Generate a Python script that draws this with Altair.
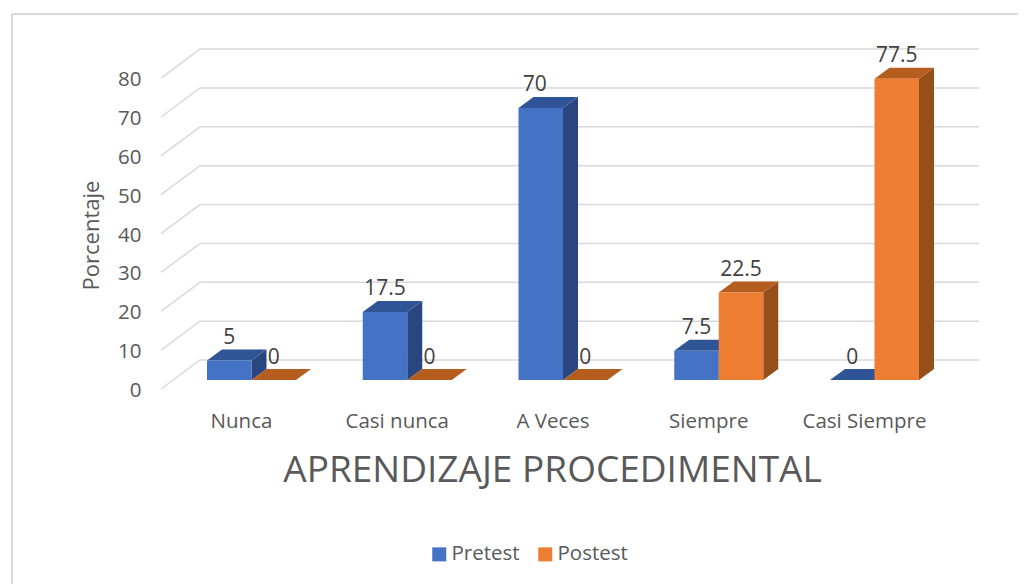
import altair as alt
import pandas as pd

categories = ["Nunca", "Casi nunca", "A Veces", "Siempre", "Casi Siempre"]
pretest = [5, 17.5, 70, 7.5, 0]
postest = [0, 0, 0, 22.5, 77.5]
series = ["Pretest", "Postest"]
front_colors = ["#4472C4", "#ED7D31"]
top_colors = {"Pretest": "#2F5597", "Postest": "#B55D1F"}
side_colors = {"Pretest": "#2A4680", "Postest": "#954F1A"}
y_ticks = [0, 10, 20, 30, 40, 50, 60, 70, 80]

W, H = 1006, 570
PX_X, PX_Y = 155.75, 3.886
x_dom = [(12 - 251.5) / PX_X, (1018 - 251.5) / PX_X]
y_dom = [(389 - 584) / PX_Y, (389 - 14) / PX_Y]
BAR = 44.5 / PX_X
DX, DY = 15 / PX_X, 11 / PX_Y
BASE = 9 / PX_Y
WALL = 29 / PX_Y
GRID_L, GRID_B, GRID_R = (161 - 251.5) / PX_X, (200 - 251.5) / PX_X, (979 - 251.5) / PX_X

fronts, sides, tops = [], [], []
for s, vals in zip(series, [pretest, postest]):
    for i, (c, v) in enumerate(zip(categories, vals)):
        x0 = i - BAR if s == "Pretest" else i
        x1 = x0 + BAR
        t = BASE + v
        key = f"{s}{i}"
        fronts.append(dict(serie=s, x0=x0, x1=x1, y0=BASE, y1=t, value=v, xc=(x0 + x1) / 2,
                           lab=f"{v:g}", cat=c))
        sides += [dict(k=key, fill=side_colors[s], x=x1, y=t, y2=BASE),
                  dict(k=key, fill=side_colors[s], x=x1 + DX, y=t + DY, y2=BASE + DY)]
        tops += [dict(k=key, fill=top_colors[s], x=x0, y=t, y2=t),
                 dict(k=key, fill=top_colors[s], x=x0 + DX, y=t + DY, y2=t),
                 dict(k=key, fill=top_colors[s], x=x1, y=t + DY, y2=t),
                 dict(k=key, fill=top_colors[s], x=x1 + DX, y=t + DY, y2=t + DY)]

grid = []
for v in y_ticks:
    grid += [dict(t=v, o=0, x=GRID_L, y=v), dict(t=v, o=1, x=GRID_B, y=v + WALL), dict(t=v, o=2, x=GRID_R, y=v + WALL)]

fronts, sides, tops, grid = map(pd.DataFrame, (fronts, sides, tops, grid))

FONT = "Open Sans"
label_expr = "[" + ",".join(f"'{c}'" for c in categories) + "][datum.value]"
x_axis = alt.Axis(values=list(range(5)), labelExpr=label_expr, title="APRENDIZAJE PROCEDIMENTAL",
                  offset=-(584 - 421), domain=False, ticks=False, grid=False, labelPadding=0,
                  labelOffset=-10.5, labelFontSize=20.5, labelColor="#595959", labelFont=FONT,
                  labelBaseline="middle", titleFont=FONT, titleFontSize=37, titleFontWeight="normal",
                  titleColor="#595959", titleX=540, titleY=49, titleAnchor="middle", titleBaseline="middle")
y_axis = alt.Axis(values=y_ticks, title="Porcentaje", offset=-129, domain=False, ticks=False, grid=False,
                  labelPadding=0, labelOffset=1.5, labelFontSize=20.5, labelColor="#595959", labelFont=FONT,
                  titleFont=FONT, titleFontSize=22, titleFontWeight="normal", titleColor="#595959",
                  titleX=-38, titleY=221, titleAnchor="middle")
X = lambda f: alt.X(f, type="quantitative", scale=alt.Scale(domain=x_dom, nice=False, zero=False), axis=x_axis)
Y = lambda f: alt.Y(f, type="quantitative", scale=alt.Scale(domain=y_dom, nice=False, zero=False), axis=y_axis)

grid_layer = alt.Chart(grid).mark_line(color="#D9D9D9", strokeWidth=1.5).encode(
    x=X("x"), y=Y("y"), detail="t:N", order="o:Q")
side_layer = alt.Chart(sides).mark_area().encode(
    x=X("x"), y=Y("y"), y2="y2:Q", detail="k:N", color=alt.Color("fill:N", scale=None))
top_layer = alt.Chart(tops).mark_area().encode(
    x=X("x"), y=Y("y"), y2="y2:Q", detail="k:N", color=alt.Color("fill:N", scale=None))
front_layer = alt.Chart(fronts).mark_rect().encode(
    x=X("x0"), x2="x1:Q", y=Y("y0"), y2="y1:Q",
    color=alt.Color("serie:N", scale=alt.Scale(domain=series, range=front_colors),
                    legend=alt.Legend(title=None, orient="none", legendX=417, legendY=530, direction="horizontal",
                                      symbolType="square", symbolSize=196, symbolStrokeWidth=0, labelFont=FONT,
                                      labelFontSize=20.5, labelColor="#595959", columnPadding=15, labelOffset=2)))
text = lambda d: alt.Chart(fronts).mark_text(font=FONT, fontSize=21, color="#404040", dy=-22.5, dx=d, baseline="middle")
label_layer = text(0).transform_filter("datum.value != 70").encode(x=X("xc"), y=Y("y1"), text="lab:N")
label_layer2 = text(-6).transform_filter("datum.value == 70").encode(x=X("xc"), y=Y("y1"), text="lab:N")

frame_top = alt.Chart(fronts).mark_rule(color="#D9D9D9", strokeWidth=1.5).encode(
    x=alt.value(0), x2=alt.value(W), y=alt.value(0))
frame_left = alt.Chart(fronts).mark_rule(color="#D9D9D9", strokeWidth=1.5).encode(
    x=alt.value(0), y=alt.value(0), y2=alt.value(H))

chart = alt.layer(grid_layer, frame_top, frame_left, side_layer, top_layer, front_layer, label_layer, label_layer2
    ).resolve_scale(color="independent").properties(
    width=W, height=H, padding={"left": 4, "top": 6, "right": 0, "bottom": 0}, background="white",
    autosize=alt.AutoSizeParams(type="none")
).configure_view(stroke=None)

chart.save("out.html", embed_options={"renderer": "svg", "actions": False})
